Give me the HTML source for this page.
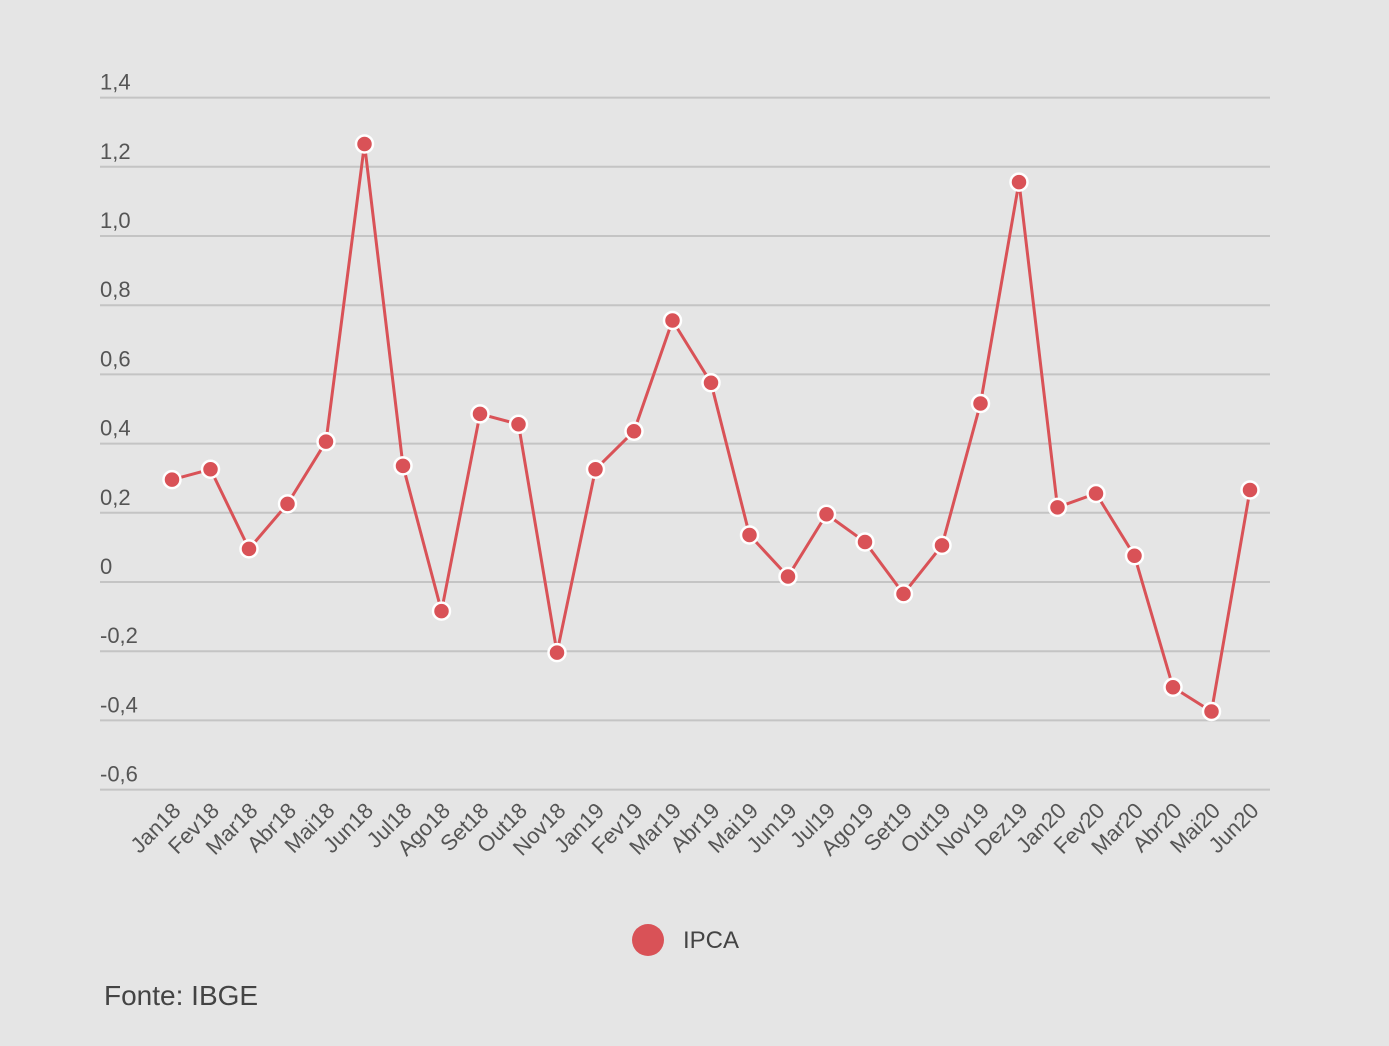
<!DOCTYPE html>
<html><head><meta charset="utf-8"><style>
body{margin:0;background:#e5e5e5;}
svg{display:block;font-family:"Liberation Sans",sans-serif;}
</style></head><body>
<svg width="1389" height="1046" viewBox="0 0 1389 1046">
<rect width="1389" height="1046" fill="#e5e5e5"/>
<g id="grid"></g><g id="ylabels"></g><g id="xlabels"></g><g id="series"></g>
<g>
<circle cx="648" cy="940" r="16" fill="#d95257"/>
<text x="683" y="948" font-size="24" fill="#444">IPCA</text>
</g>
<text x="104" y="1005" font-size="28" fill="#444">Fonte: IBGE</text>
</svg>
<script>
const categories=["Jan18","Fev18","Mar18","Abr18","Mai18","Jun18","Jul18","Ago18","Set18","Out18","Nov18","Jan19","Fev19","Mar19","Abr19","Mai19","Jun19","Jul19","Ago19","Set19","Out19","Nov19","Dez19","Jan20","Fev20","Mar20","Abr20","Mai20","Jun20"];
const ipcaValues=[0.29,0.32,0.09,0.22,0.40,1.26,0.33,-0.09,0.48,0.45,-0.21,0.32,0.43,0.75,0.57,0.13,0.01,0.19,0.11,-0.04,0.10,0.51,1.15,0.21,0.25,0.07,-0.31,-0.38,0.26];
const yTicks=[1.4,1.2,1.0,0.8,0.6,0.4,0.2,0,-0.2,-0.4,-0.6];
const yTickLabels=["1,4","1,2","1,0","0,8","0,6","0,4","0,2","0","-0,2","-0,4","-0,6"];
const NS="http://www.w3.org/2000/svg";
const yg=v=>582-v*346;
const y=v=>580-v*346;
const x=i=>172+i*(1250-172)/(categories.length-1);
function mk(tag,attrs,parent){const e=document.createElementNS(NS,tag);for(const k in attrs)e.setAttribute(k,attrs[k]);document.getElementById(parent).appendChild(e);return e;}
yTicks.forEach((t,i)=>{
 const l=mk("line",{x1:100,x2:1270,y1:yg(t),y2:yg(t),stroke:"#c4c4c4","stroke-width":2},"grid");
 
 
 const tx=mk("text",{x:100,y:yg(t)-8,"font-size":22,fill:"#555"},"ylabels");
 tx.textContent=yTickLabels[i];
 
 
});
categories.forEach((c,i)=>{
 const tx=mk("text",{x:x(i)+10,y:812,"font-size":22,fill:"#555","text-anchor":"end",transform:`rotate(-45 ${x(i)+10} 812)`},"xlabels");
 tx.textContent=c;
 
 
});
const pts=ipcaValues.map((v,i)=>x(i)+","+y(v)).join(" ");
const pl=mk("polyline",{points:pts,fill:"none",stroke:"#d95257","stroke-width":3,"stroke-linejoin":"round"},"series");


ipcaValues.forEach((v,i)=>{
 const c=mk("circle",{cx:x(i),cy:y(v),r:8.5,fill:"#d95257",stroke:"#fff","stroke-width":2.5},"series");
 
 
});
</script>
</body></html>
